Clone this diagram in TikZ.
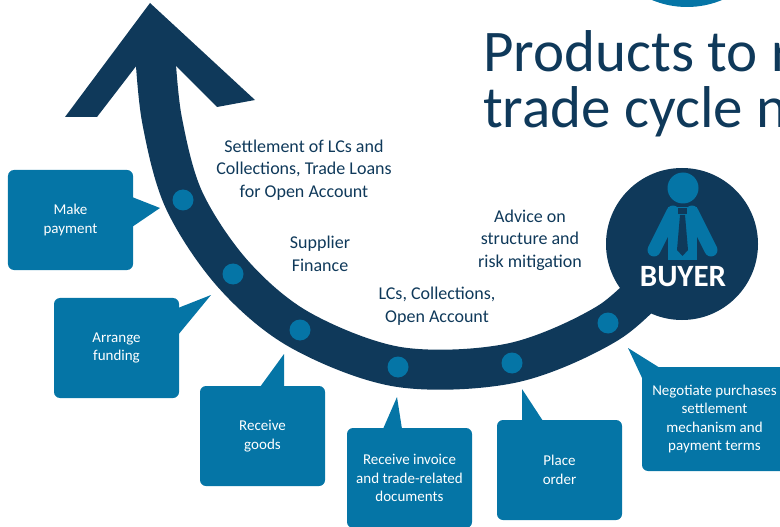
\documentclass[tikz,border=0pt]{standalone}
\usepackage{fontspec}
\setmainfont{Carlito}
\usetikzlibrary{arrows.meta}

\definecolor{navy}{RGB}{15,57,90}
\definecolor{bubblue}{RGB}{5,117,166}

\begin{document}
\begin{tikzpicture}[x=1bp, y=-1bp]

\tikzset{
  bubble/.style={fill=bubblue, rounded corners=6bp, text=white, align=center,
    minimum width=125bp, minimum height=100bp, inner sep=0pt,
    font=\fontsize{15bp}{18.5bp}\selectfont},
  dot/.style={circle, fill=bubblue, minimum size=21bp, inner sep=0pt},
  lbl/.style={text=navy, align=center, font=\fontsize{18bp}{22.5bp}\selectfont},
  ttl/.style={anchor=base west, inner sep=0pt, text=navy, font=\fontsize{59bp}{59bp}\selectfont}
}

\useasboundingbox (0,0) rectangle (780,527);
\clip (0,0) rectangle (780,527);

% --- Circulo do topo (cortado) ---
\fill[bubblue] (687,-84) circle (91);

% --- Titulo ---
\node[ttl] (title1) at (483,72) {Products to r};
\node[ttl] (title2) at (483,128) {trade cycle n};

% --- Faixa curva com a seta ---
\draw[navy, line width=40bp] plot[smooth, tension=0.55] coordinates
  {(155,50) (162,120) (184,200) (233,274) (300,330) (399,367) (512,363) (608,323) (665,270)};
\fill[navy] (150,3) -- (255,100) -- (217,107) -- (176,66) -- (137,65) -- (97,117) -- (65,117) -- cycle;

% --- Comprador ---
\node[circle, fill=navy, minimum size=152bp, inner sep=0pt] (buyer) at (682,244) {};
\fill[bubblue] (683,188) circle (15.5);
\fill[bubblue] (668,207) rectangle (697,260);
\draw[bubblue, line width=13bp, line cap=round] (673,212) -- (654,250);
\draw[bubblue, line width=13bp, line cap=round] (692,212) -- (711,250);
\fill[navy] (678,208) rectangle (687,214);
\fill[navy] (680,215) -- (685,215) -- (688,250) -- (682.5,256) -- (677,250) -- cycle;
\node[text=white, font=\fontsize{31bp}{31bp}\selectfont\bfseries] (buyerlbl) at (683,277) {BUYER};

% --- Pontos na faixa ---
\node[dot] (d1) at (183,200) {};
\node[dot] (d2) at (233,274) {};
\node[dot] (d3) at (300,330) {};
\node[dot] (d4) at (398,367) {};
\node[dot] (d5) at (512,363) {};
\node[dot] (d6) at (608,323) {};

% --- Produtos ---
\node[lbl] (settle) at (304,170) {Settlement of LCs and\\Collections, Trade Loans\\for Open Account};
\node[lbl] (supfin) at (320,254) {Supplier\\Finance};
\node[lbl] (lcs) at (437,306) {LCs, Collections,\\Open Account};
\node[lbl] (advice) at (530,240) {Advice on\\structure and\\risk mitigation};

% --- Baloes ---
\node[bubble] (pay) at (70.5,220) {Make\\payment};
\fill[bubblue] (132,197) -- (160,208) -- (132,227) -- cycle;

\node[bubble] (fund) at (116.5,348) {Arrange\\funding};
\fill[bubblue] (178,308) -- (211,295) -- (178,335) -- cycle;

\node[bubble] (goods) at (262.5,436) {Receive\\goods};
\fill[bubblue] (260,387) -- (284,354) -- (284,387) -- cycle;

\node[bubble] (invoice) at (409.5,478) {Receive invoice\\and trade-related\\documents};
\fill[bubblue] (383,429) -- (397,397) -- (402,429) -- cycle;

\node[bubble] (order) at (559.5,470) {Place\\order};
\fill[bubblue] (522,421) -- (522,389) -- (543,421) -- cycle;

\node[bubble, minimum width=145bp, minimum height=104bp] (nego) at (714.5,419) {Negotiate purchases\\settlement\\mechanism and\\payment terms};
\fill[bubblue] (643,380) -- (628,348) -- (660,368) -- cycle;

\end{tikzpicture}
\end{document}
